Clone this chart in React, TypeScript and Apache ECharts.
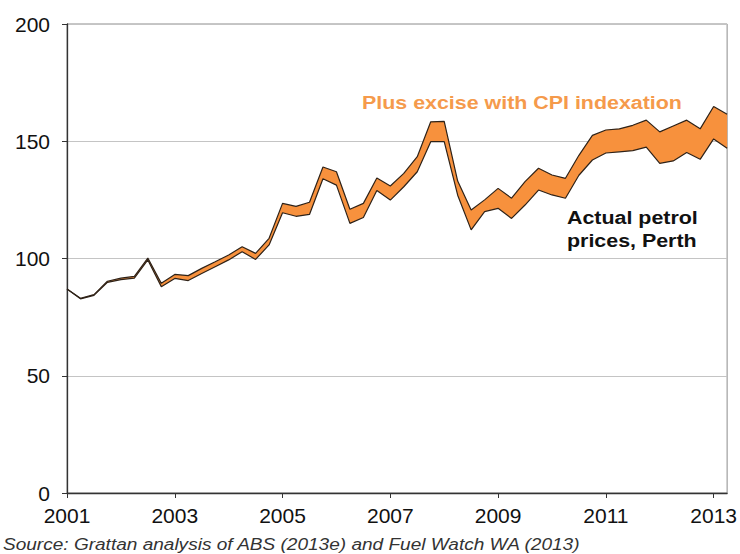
import React, { useEffect, useRef } from "react";
import * as echarts from "echarts";

const years = [2001, 2002, 2003, 2004, 2005, 2006, 2007, 2008, 2009, 2010, 2011, 2012, 2013];
const quarters: string[] = [];
years.forEach((y) => {
  for (let q = 1; q <= 4; q++) quarters.push(`${y}Q${q}`);
});
const categories = quarters.slice(0, 50);

const actualPerth = [
  87.0, 82.8, 84.3, 89.8, 91.0, 91.6, 99.4, 88.0, 91.5, 90.6,
  93.6, 96.5, 99.4, 102.9, 99.6, 105.8, 119.5, 118.0, 118.8, 134.0,
  131.3, 115.0, 117.5, 129.0, 124.9, 130.6, 137.0, 149.8, 149.8, 127.0,
  112.2, 120.0, 121.4, 117.1, 122.8, 129.2, 127.1, 125.7, 135.5, 142.0,
  145.0, 145.5, 146.0, 147.5, 140.6, 141.6, 145.2, 142.3, 151.0, 147.0,
];

const plusExciseCPI = [
  87.0, 83.0, 84.6, 90.3, 91.6, 92.4, 100.2, 89.4, 93.2, 92.7,
  95.8, 98.6, 101.5, 105.0, 102.2, 108.6, 123.5, 122.2, 124.0, 139.0,
  137.0, 121.0, 123.5, 134.3, 130.9, 136.3, 143.4, 158.3, 158.5, 133.0,
  120.7, 125.0, 129.9, 125.7, 132.8, 138.5, 135.6, 134.2, 144.0, 152.5,
  154.8, 155.3, 156.8, 159.0, 154.0, 156.5, 159.0, 155.3, 164.8, 161.5,
];

const yTicks = { min: 0, max: 200, interval: 50 };

const FONT = "'Liberation Sans', Arial, sans-serif";
const STRETCH = 1.19;

export default function App() {
  const ref = useRef<HTMLDivElement>(null);

  useEffect(() => {
    if (!ref.current) return;
    const chart = echarts.init(ref.current, undefined, { renderer: "svg" });
    const gap = plusExciseCPI.map((v, i) => +(v - actualPerth[i]).toFixed(2));
    const showLabel = (idx: number) => idx % 8 === 0;

    const label = (text: string, x: number, y: number, fill: string, font: string) => ({
      type: "text",
      x,
      y,
      scaleX: STRETCH,
      silent: true,
      style: { text, fill, font, textAlign: "left", textVerticalAlign: "middle", verticalAlign: "middle" },
    });

    chart.setOption({
      animation: false,
      backgroundColor: "#ffffff",
      grid: {
        left: 67,
        right: 12,
        top: 24,
        bottom: 61,
        show: true,
        borderColor: "#8c8c8c",
        borderWidth: 1,
      },
      xAxis: {
        type: "category",
        data: categories,
        boundaryGap: false,
        axisLine: { lineStyle: { color: "#333333", width: 1.3 } },
        axisTick: {
          show: true,
          length: 5,
          interval: (idx: number) => showLabel(idx),
          lineStyle: { color: "#333333" },
        },
        axisLabel: {
          interval: (idx: number) => showLabel(idx),
          formatter: (v: string) => v.slice(0, 4),
          color: "#111111",
          fontSize: 21,
          fontFamily: FONT,
          margin: 12,
        },
        splitLine: { show: false },
      },
      yAxis: {
        type: "value",
        min: yTicks.min,
        max: yTicks.max,
        interval: yTicks.interval,
        axisLine: { show: true, lineStyle: { color: "#333333", width: 1.3 } },
        axisTick: { show: true, length: 5, lineStyle: { color: "#333333" } },
        axisLabel: {
          color: "#111111",
          fontSize: 21,
          fontFamily: FONT,
          margin: 17,
        },
        splitLine: { show: true, lineStyle: { color: "#c4c4c4", width: 1.2 } },
      },
      series: [
        {
          name: "base",
          type: "line",
          stack: "band",
          data: actualPerth,
          symbol: "none",
          lineStyle: { opacity: 0 },
          silent: true,
        },
        {
          name: "gap",
          type: "line",
          stack: "band",
          data: gap,
          symbol: "none",
          lineStyle: { opacity: 0 },
          areaStyle: { color: "#F7913D", opacity: 1 },
          silent: true,
        },
        {
          name: "Actual petrol prices, Perth",
          type: "line",
          data: actualPerth,
          symbol: "none",
          lineStyle: { color: "#2e2218", width: 1.2 },
        },
        {
          name: "Plus excise with CPI indexation",
          type: "line",
          data: plusExciseCPI,
          symbol: "none",
          lineStyle: { color: "#2e2218", width: 1.2 },
        },
      ],
      graphic: [
        label("Plus excise with CPI indexation", 362, 103, "#F59A4B", `bold 18px ${FONT}`),
        label("Actual petrol", 567, 218, "#111111", `bold 18px ${FONT}`),
        label("prices, Perth", 567, 241, "#111111", `bold 18px ${FONT}`),
        label(
          "Source: Grattan analysis of ABS (2013e) and Fuel Watch WA (2013)",
          3,
          545,
          "#333333",
          `italic 16px ${FONT}`
        ),
      ],
    });

    return () => chart.dispose();
  }, []);

  return (
    <div
      ref={ref}
      style={{ position: "fixed", left: 0, top: 0, width: 740, height: 554, background: "#fff" }}
    />
  );
}
